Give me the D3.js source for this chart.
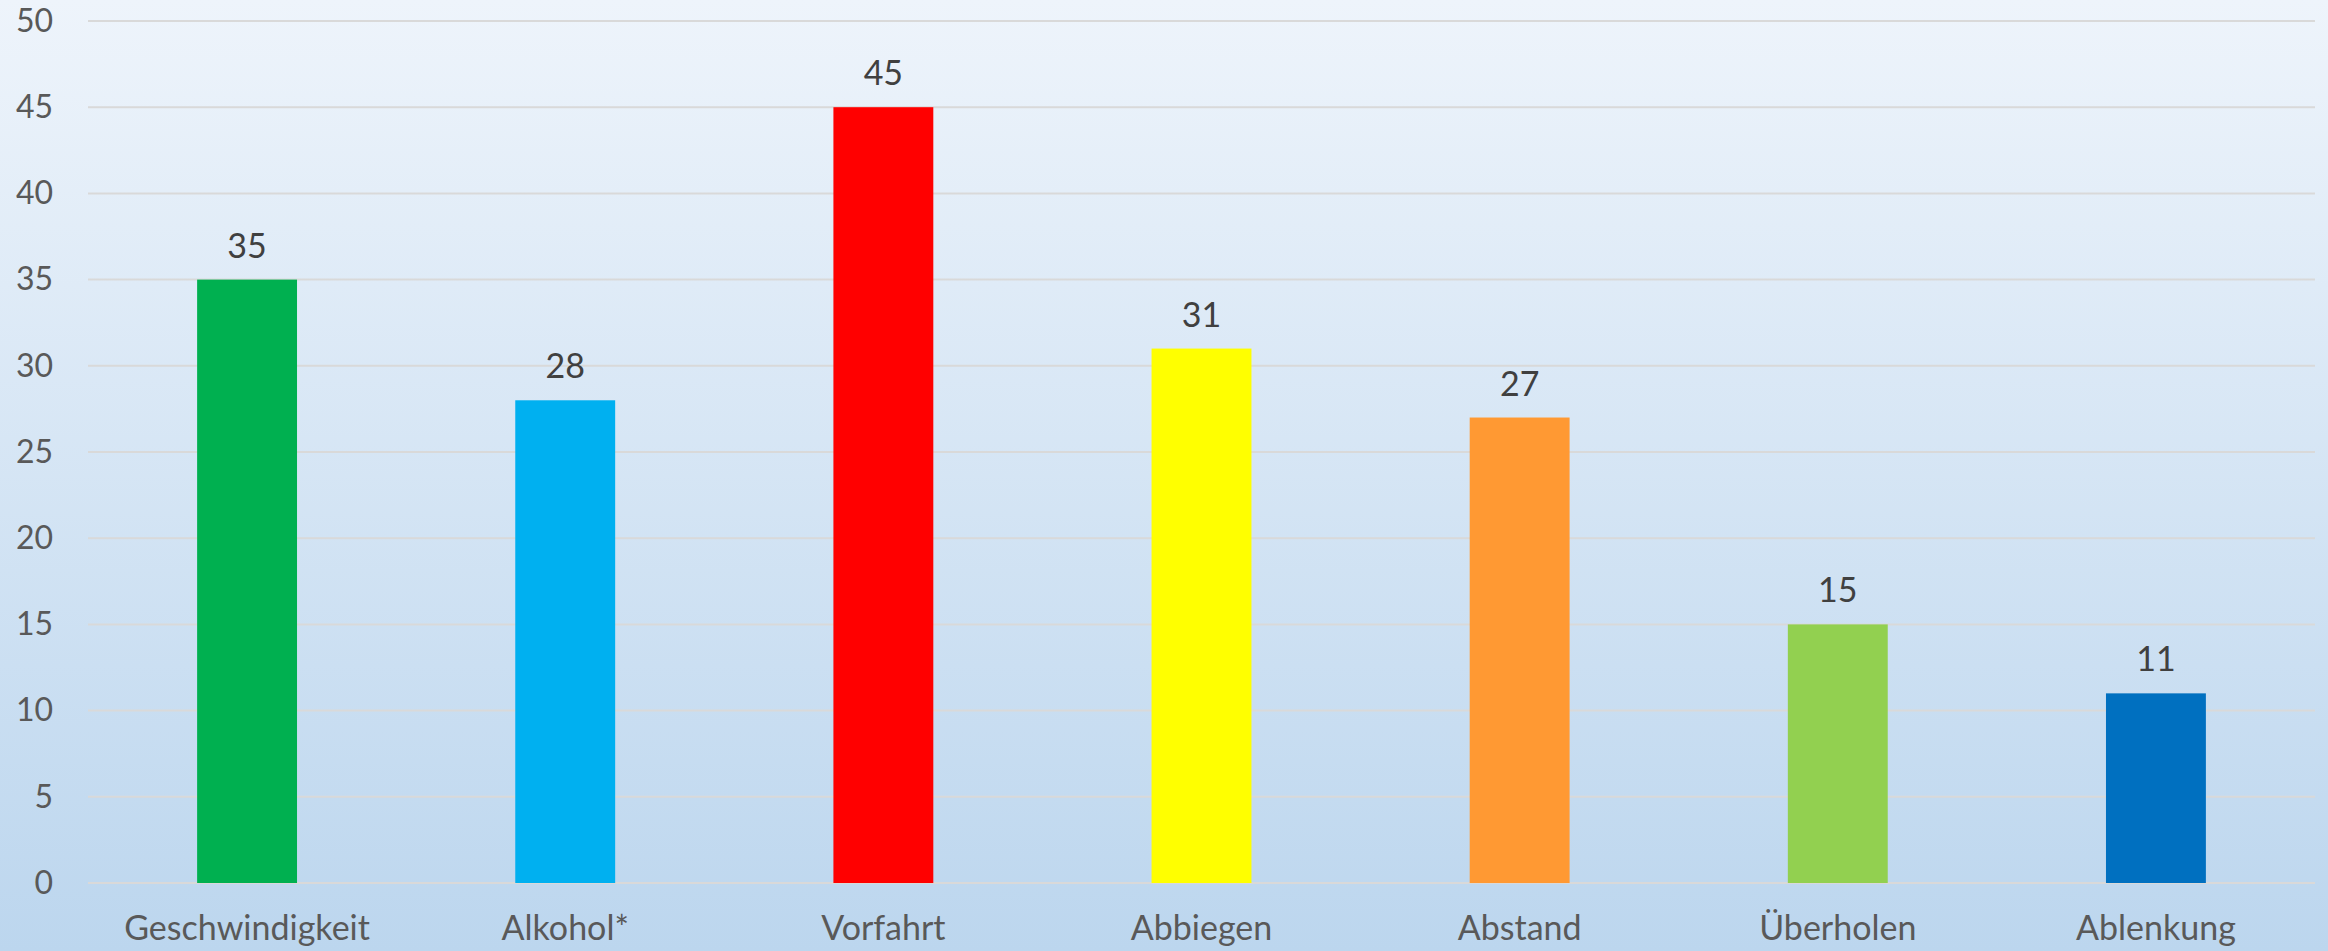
<!DOCTYPE html>
<html>
<head>
<meta charset="utf-8">
<script src="https://cdn.jsdelivr.net/npm/d3@7"></script>
<style>
  html, body { margin: 0; padding: 0; overflow: hidden; }
  body { width: 2328px; height: 951px; }
  text { font-family: Lato, "Open Sans", sans-serif; }
</style>
</head>
<body>
<svg id="chart" width="2328" height="951"></svg>
<script>
    var categories = ["Geschwindigkeit", "Alkohol*", "Vorfahrt", "Abbiegen", "Abstand", "Überholen", "Ablenkung"];
    var values = [35, 28, 45, 31, 27, 15, 11];
    var barColors = ["#00B050", "#00B0F0", "#FF0000", "#FFFF00", "#FF9933", "#92D050", "#0070C0"];
    var yTicks = [0, 5, 10, 15, 20, 25, 30, 35, 40, 45, 50];

    var svg = d3.select("#chart"),
        margin = { top: 21, right: 13, bottom: 68, left: 88 },
        width = +svg.attr("width") - margin.left - margin.right,
        height = +svg.attr("height") - margin.top - margin.bottom;

    // background gradient
    var grad = svg.append("defs").append("linearGradient")
        .attr("id", "bg")
        .attr("x1", 0).attr("y1", 0).attr("x2", 0).attr("y2", 1);
    grad.append("stop").attr("offset", "0%").attr("stop-color", "#EEF4FB");
    grad.append("stop").attr("offset", "100%").attr("stop-color", "#BCD6EE");

    svg.append("rect")
        .attr("width", 2328).attr("height", 951)
        .attr("fill", "url(#bg)");

    var g = svg.append("g").attr("transform", "translate(" + margin.left + "," + margin.top + ")");

    var x = d3.scaleBand()
        .domain(categories)
        .range([0, width])
        .paddingInner(0.686)
        .paddingOuter(0.343);

    var y = d3.scaleLinear()
        .domain([0, 50])
        .range([height, 0]);

    // gridlines
    g.selectAll(".grid")
        .data(yTicks)
        .enter().append("line")
        .attr("x1", 0).attr("x2", width)
        .attr("y1", function(d) { return y(d); })
        .attr("y2", function(d) { return y(d); })
        .attr("stroke", "#D9D9D9")
        .attr("stroke-width", 2);

    // y axis labels
    var yAxis = g.append("g")
        .call(d3.axisLeft(y).tickValues(yTicks).tickSize(0).tickPadding(35));
    yAxis.select(".domain").remove();
    yAxis.selectAll("text")
        .attr("fill", "#595959")
        .style("font-size", "32px");

    // bars
    g.selectAll(".bar")
        .data(values)
        .enter().append("rect")
        .attr("x", function(d, i) { return x(categories[i]); })
        .attr("y", function(d) { return y(d); })
        .attr("width", x.bandwidth())
        .attr("height", function(d) { return height - y(d); })
        .attr("fill", function(d, i) { return barColors[i]; });

    // value labels
    g.selectAll(".val")
        .data(values)
        .enter().append("text")
        .attr("x", function(d, i) { return x(categories[i]) + x.bandwidth() / 2; })
        .attr("y", function(d) { return y(d) - 22; })
        .attr("text-anchor", "middle")
        .attr("fill", "#404040")
        .style("font-size", "34px")
        .text(function(d) { return d; });

    // x axis labels
    var xAxis = g.append("g")
        .attr("transform", "translate(0," + height + ")")
        .call(d3.axisBottom(x).tickSize(0).tickPadding(33));
    xAxis.select(".domain").remove();
    xAxis.selectAll("text")
        .attr("fill", "#595959")
        .style("font-size", "34px");
</script>
</body>
</html>
